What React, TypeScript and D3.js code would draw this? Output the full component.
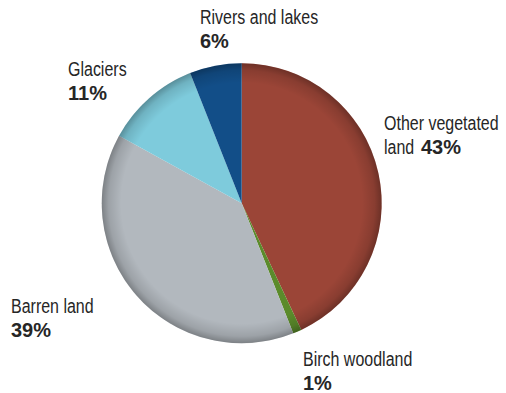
import React from "react";
import * as d3 from "d3";

const categories = ["Other vegetated land", "Birch woodland", "Barren land", "Glaciers", "Rivers and lakes"];
const values = [43, 1, 39, 11, 6];
const colors = ["#9b4537", "#5b8b2b", "#b2b8be", "#7ecbdc", "#124e88"];

type Seg = { text: string; bold: boolean; dx?: number };
type Lbl = { lines: Seg[][]; x: number; y: number };
const labelLayout: Lbl[] = [
  { lines: [[{ text: "Other vegetated", bold: false }], [{ text: "land", bold: false }, { text: "43%", bold: true, dx: 37 }]], x: 384, y: 129.5 },
  { lines: [[{ text: "Birch woodland", bold: false }], [{ text: "1%", bold: true }]], x: 303, y: 365.7 },
  { lines: [[{ text: "Barren land", bold: false }], [{ text: "39%", bold: true }]], x: 11, y: 312.5 },
  { lines: [[{ text: "Glaciers", bold: false }], [{ text: "11%", bold: true }]], x: 68, y: 75.7 },
  { lines: [[{ text: "Rivers and lakes", bold: false }], [{ text: "6%", bold: true }]], x: 200, y: 23.5 },
];

export default function App() {
  const W = 506, H = 393;
  const cx = 241.7, cy = 203.2, r = 140;
  const pie = d3.pie<number>().sort(null).value((d) => d);
  const arcs = pie(values);
  const arc = d3.arc<d3.PieArcDatum<number>>().innerRadius(0).outerRadius(r);
  const lineGap = 24.5;
  const narrow = 0.82;
  return (
    <svg width={W} height={H} style={{ position: "absolute", left: 0, top: 0, background: "#fff" }}>
      <defs>
        <radialGradient id="edge" cx="0.5" cy="0.5" r="0.5">
          <stop offset="0" stopColor="#000" stopOpacity="0" />
          <stop offset="0.86" stopColor="#000" stopOpacity="0" />
          <stop offset="0.95" stopColor="#000" stopOpacity="0.12" />
          <stop offset="1" stopColor="#000" stopOpacity="0.3" />
        </radialGradient>
      </defs>
      <g transform={`translate(${cx},${cy})`}>
        {arcs.map((a, i) => (
          <path key={categories[i]} d={arc(a) || ""} fill={colors[i]} />
        ))}
        <circle r={r} fill="url(#edge)" />
      </g>
      {labelLayout.map((l, i) =>
        l.lines.map((ln, j) =>
          ln.map((seg, k) => {
            const sx = l.x + (seg.dx || 0);
            const sy = l.y + j * lineGap;
            return (
              <text
                key={`${i}-${j}-${k}`}
                transform={`translate(${sx},${sy}) scale(${seg.bold ? 1 : narrow},1)`}
                fill="#262626"
                style={{
                  fontFamily: "'Liberation Sans', Arial, sans-serif",
                  fontWeight: seg.bold ? 700 : 400,
                  fontSize: seg.bold ? 20 : 19.5,
                }}
              >
                {seg.text}
              </text>
            );
          })
        )
      )}
    </svg>
  );
}
